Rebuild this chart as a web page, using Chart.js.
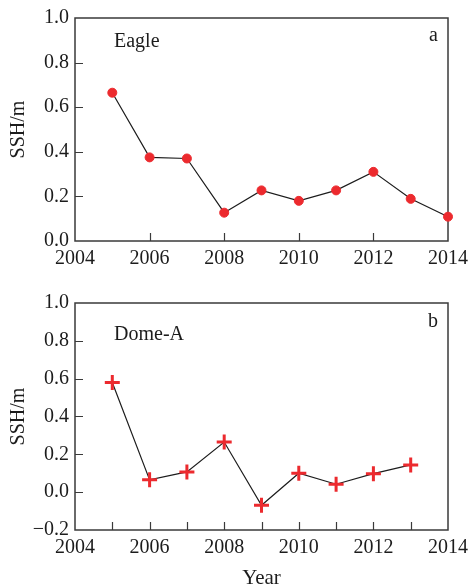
<!DOCTYPE html>
<html>
<head>
<meta charset="utf-8">
<script src="https://cdn.jsdelivr.net/npm/chart.js@4.4.1/dist/chart.umd.min.js"></script>
<style>
  html, body { margin: 0; padding: 0; background: #fff; }
  #wrap { position: relative; width: 474px; height: 587px; }
  canvas { position: absolute; left: 0; }
  #c1 { top: 0; }
  #c2 { top: 280px; }
</style>
</head>
<body>
<div id="wrap">
  <canvas id="c1" width="474" height="280"></canvas>
  <canvas id="c2" width="474" height="307"></canvas>
</div>
<script>
// Annual sea surface height (SSH, m) at two stations
const eagleYears = [2005, 2006, 2007, 2008, 2009, 2010, 2011, 2012, 2013, 2014];
const eagleSSH   = [0.665, 0.375, 0.370, 0.127, 0.227, 0.180, 0.227, 0.310, 0.189, 0.109];

const domeYears = [2005, 2006, 2007, 2008, 2009, 2010, 2011, 2012, 2013];
const domeSSH   = [0.580, 0.065, 0.107, 0.265, -0.069, 0.100, 0.042, 0.098, 0.144];

// Axis tick labels and inner tick marks
const yearTicks      = [2004, 2006, 2008, 2010, 2012, 2014];
const eagleYTicks    = [0.0, 0.2, 0.4, 0.6, 0.8, 1.0];
const domeYTicks     = [-0.2, 0.0, 0.2, 0.4, 0.6, 0.8, 1.0];
const eagleXMarks    = [2006, 2008, 2010, 2012];
const eagleYMarks    = [0.2, 0.4, 0.6, 0.8];
const domeXMarks     = [2005, 2006, 2007, 2008, 2009, 2010, 2011, 2012, 2013];
const domeYMarks     = [0.0, 0.2, 0.4, 0.6, 0.8];

const INK = '#1c1c1c';
const RED = '#ec2a2e';
const SERIF = "'Liberation Serif', 'Times New Roman', serif";

Chart.defaults.font.family = SERIF;
Chart.defaults.font.size = 20;
Chart.defaults.color = INK;

// Frame around the plot, inward tick marks and in-panel labels
const framePlugin = {
  id: 'frame',
  beforeDatasetsDraw(chart, args, opts) {
    const { ctx, chartArea: a, scales: { x, y } } = chart;
    ctx.save();
    ctx.strokeStyle = '#3a3a3a';
    ctx.lineWidth = 1.5;
    ctx.strokeRect(a.left, a.top, a.right - a.left, a.bottom - a.top);
    ctx.lineWidth = 1.2;
    ctx.beginPath();
    (opts.xMarks || []).forEach(v => {
      const px = Math.round(x.getPixelForValue(v)) + 0.5;
      ctx.moveTo(px, a.bottom);
      ctx.lineTo(px, a.bottom - opts.tickLen);
    });
    (opts.yMarks || []).forEach(v => {
      const py = Math.round(y.getPixelForValue(v)) + 0.5;
      ctx.moveTo(a.left, py);
      ctx.lineTo(a.left + opts.tickLen, py);
    });
    ctx.stroke();
    ctx.fillStyle = INK;
    ctx.font = '20px ' + SERIF;
    ctx.textBaseline = 'alphabetic';
    ctx.textAlign = 'left';
    ctx.fillText(opts.name, a.left + 39, a.top + opts.nameDy);
    ctx.textAlign = 'right';
    ctx.fillText(opts.letter, a.right - 10, a.top + opts.letterDy);
    ctx.restore();
  }
};

function fmtY(v) {
  const s = Math.abs(v).toFixed(1);
  return v < -1e-9 ? '\u2212' + s : s;
}

function makeChart(id, xs, ys, pointStyle, radius, yMin, yTicks, cfg) {
  const data = xs.map((v, i) => ({ x: v, y: ys[i] }));
  return new Chart(document.getElementById(id), {
    type: 'line',
    data: {
      datasets: [{
        data,
        borderColor: INK,
        borderWidth: 1.2,
        pointStyle,
        pointRadius: radius,
        pointHoverRadius: radius,
        pointBackgroundColor: RED,
        pointBorderColor: RED,
        pointBorderWidth: pointStyle === 'cross' ? 3 : 1,
        tension: 0,
        clip: false
      }]
    },
    options: {
      responsive: false,
      animation: false,
      events: [],
      layout: { padding: { left: 0, right: 21, top: cfg.padTop, bottom: 0 } },
      plugins: {
        legend: { display: false },
        tooltip: { enabled: false },
        frame: cfg.frame
      },
      scales: {
        x: {
          type: 'linear',
          min: 2004,
          max: 2014,
          grid: { display: false, drawTicks: false },
          border: { display: false },
          afterBuildTicks: s => { s.ticks = yearTicks.map(v => ({ value: v })); },
          afterFit: s => { s.height = cfg.xHeight; },
          ticks: {
            autoSkip: false,
            maxRotation: 0,
            padding: cfg.xPad,
            color: INK,
            callback: v => String(v)
          },
          title: cfg.xTitle
        },
        y: {
          type: 'linear',
          min: yMin,
          max: 1.0,
          grid: { display: false, drawTicks: false },
          border: { display: false },
          afterBuildTicks: s => { s.ticks = yTicks.map(v => ({ value: v })); },
          afterFit: s => { s.width = 75; },
          ticks: {
            padding: 6,
            color: INK,
            callback: v => fmtY(v)
          },
          title: {
            display: true,
            text: 'SSH/m',
            color: INK,
            font: { size: 20 },
            padding: { top: 7, bottom: 0 }
          }
        }
      }
    },
    plugins: [framePlugin]
  });
}

makeChart('c1', eagleYears, eagleSSH, 'circle', 4.5, 0, eagleYTicks, {
  padTop: 15,
  xHeight: 39,
  xPad: 6,
  xTitle: { display: false },
  frame: { xMarks: eagleXMarks, yMarks: eagleYMarks, tickLen: 8,
           name: 'Eagle', nameDy: 29, letter: 'a', letterDy: 23 }
});

makeChart('c2', domeYears, domeSSH, 'cross', 7.5, -0.2, domeYTicks, {
  padTop: 23,
  xHeight: 57,
  xPad: 6,
  xTitle: { display: true, text: 'Year', color: INK, font: { size: 21, lineHeight: 0.85 }, padding: { top: 0, bottom: 0 } },
  frame: { xMarks: domeXMarks, yMarks: domeYMarks, tickLen: 8,
           name: 'Dome-A', nameDy: 37, letter: 'b', letterDy: 24 }
});
</script>
</body>
</html>
